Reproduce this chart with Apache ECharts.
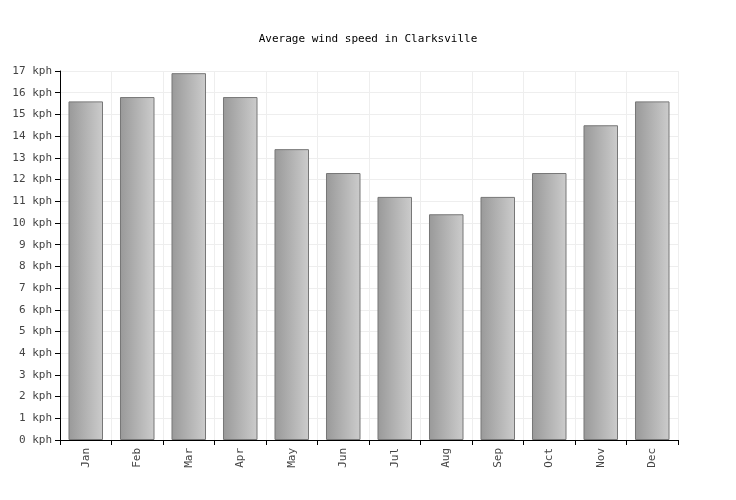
<!DOCTYPE html><html><head><meta charset="utf-8">
<script src="https://cdn.jsdelivr.net/npm/echarts@6/dist/echarts.min.js"></script>
<style>html,body{margin:0;background:#fff}#c{width:736px;height:500px}</style></head><body><div id="c"></div>
<script>
const categories=["Jan","Feb","Mar","Apr","May","Jun","Jul","Aug","Sep","Oct","Nov","Dec"];
const windSpeed=[15.6,15.8,16.9,15.8,13.4,12.3,11.2,10.4,11.2,12.3,14.5,15.6];
const font="DejaVu Sans Mono";
const chart=echarts.init(document.getElementById('c'));
chart.setOption({
 animation:false,
 title:{text:"Average wind speed in Clarksville",left:'center',top:29,textStyle:{fontFamily:font,fontSize:11,fontWeight:'normal',color:'#000'}},
 grid:{left:60,right:58,top:71,bottom:60},
 xAxis:{type:'category',data:categories,axisLine:{lineStyle:{color:'#000'}},axisTick:{show:true,lineStyle:{color:'#000'}},
  axisLabel:{rotate:90,fontFamily:font,fontSize:11,color:'#444'},splitLine:{show:true,lineStyle:{color:'#eee'}}},
 yAxis:{type:'value',min:0,max:17,interval:1,axisLine:{show:true,lineStyle:{color:'#000'}},axisTick:{show:true,lineStyle:{color:'#000'}},
  axisLabel:{formatter:'{value} kph',fontFamily:font,fontSize:11,color:'#444'},splitLine:{lineStyle:{color:'#eee'}}},
 series:[{type:'bar',data:windSpeed,barCategoryGap:'33%',
  itemStyle:{borderColor:'#777',borderWidth:1,color:new echarts.graphic.LinearGradient(0,0,1,0,[{offset:0,color:'#999'},{offset:1,color:'#ccc'}])}}]
});
</script></body></html>
